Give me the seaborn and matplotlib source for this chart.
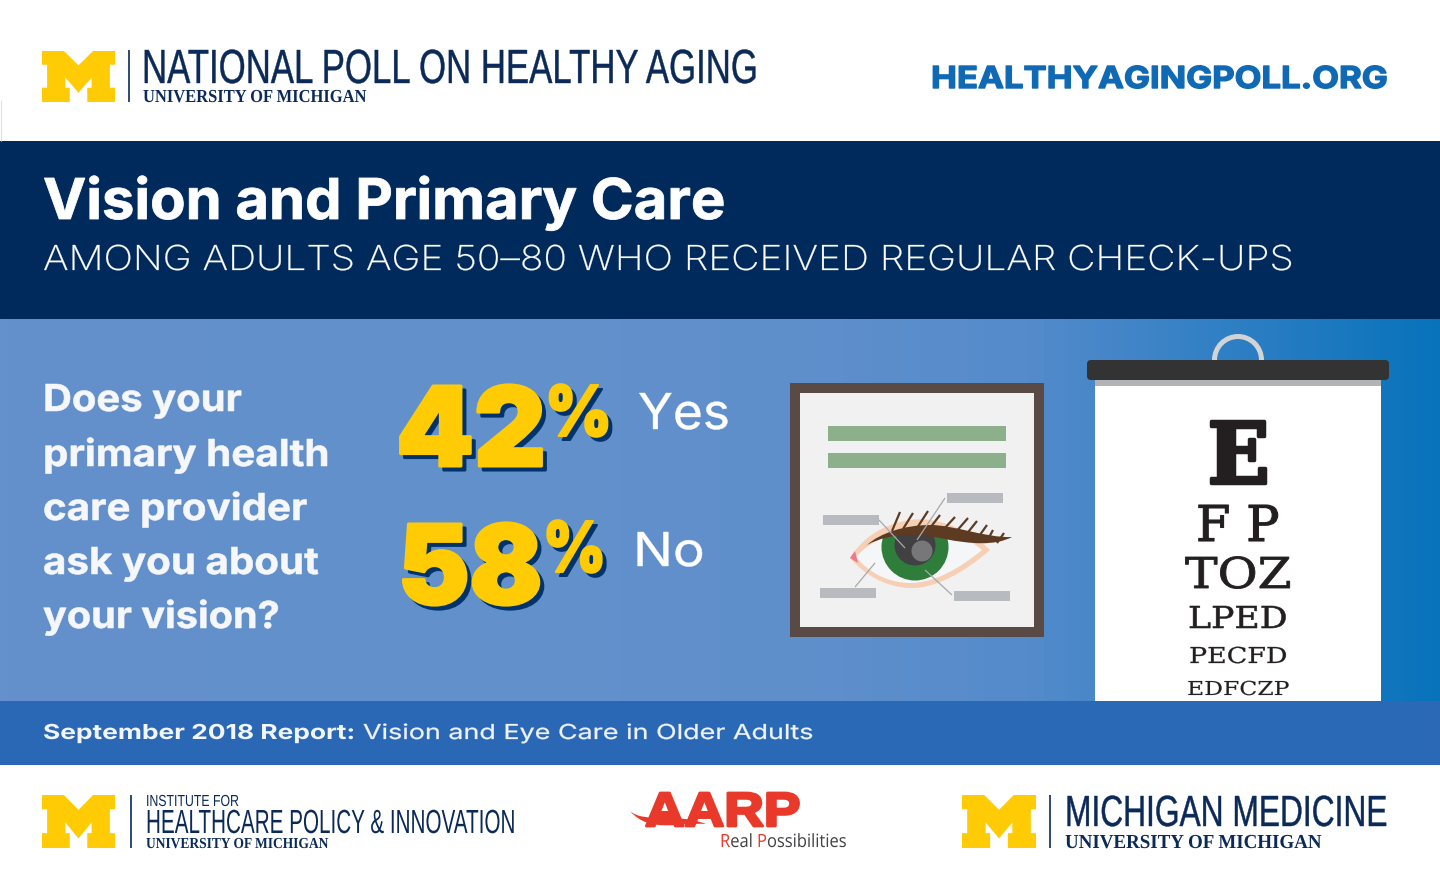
import numpy as np
import seaborn as sns
import matplotlib
matplotlib.use("Agg")
import matplotlib.pyplot as plt
import matplotlib.patheffects as pe
from matplotlib.colors import to_rgb
from matplotlib.font_manager import FontProperties
from matplotlib.patches import Rectangle, Polygon, Circle, PathPatch, FancyBboxPatch, Wedge
from matplotlib.path import Path
from matplotlib.textpath import TextPath
from matplotlib.transforms import Affine2D

# ---- content ----
poll_title = "NATIONAL POLL ON HEALTHY AGING"
um = "UNIVERSITY OF MICHIGAN"
site = "HEALTHYAGINGPOLL.ORG"
headline = "Vision and Primary Care"
subhead = "AMONG ADULTS AGE 50–80 WHO RECEIVED REGULAR CHECK-UPS"
question_lines = ["Does your", "primary health", "care provider", "ask you about", "your vision?"]
percent_values = [42, 58]
answers = ["Yes", "No"]
report_bold = "September 2018 Report:"
report_text = "Vision and Eye Care in Older Adults"
chart_rows = ["E", "F P", "TOZ", "LPED", "PECFD", "EDFCZP"]

NAVY = "#002a5c"
LOGO = "#0b2a57"
MAIZE = "#ffcb05"
RED = "#e8392a"
NARROW = "Liberation Sans"

sns.set_theme(style="white")
fig = plt.figure(figsize=(14.4, 8.82), dpi=100, facecolor="white")
ax = fig.add_axes([0, 0, 1, 1])
sns.despine(ax=ax, left=True, bottom=True, top=True, right=True)
ax.set_xticks([]); ax.set_yticks([])
renderer = fig.canvas.get_renderer()


class TextFx(pe.AbstractPathEffect):
    """Stretches a text vertically about its baseline, thickens it, adds a hard shadow."""

    def __init__(self, sy=1.0, stroke=0.0, shadow=None):
        super().__init__()
        self.sy, self.stroke, self.shadow = sy, stroke, shadow

    def draw_path(self, renderer, gc, tpath, affine, rgbFace=None):
        y0 = affine.get_matrix()[1, 2]
        a = affine + Affine2D().translate(0, -y0).scale(1, self.sy).translate(0, y0)

        def paint(tr, face):
            g = renderer.new_gc()
            g.copy_properties(gc)
            g.set_foreground(face)
            g.set_linewidth(self.stroke)
            renderer.draw_path(g, tpath, tr, face)
            g.restore()

        if self.shadow:
            dx, dy, col = self.shadow
            paint(a + Affine2D().translate(dx, -dy), to_rgb(col))
        paint(a, rgbFace)


def cap_ratio(family, weight, style):
    fp = FontProperties(family=family, weight=weight, style=style)
    return TextPath((0, 0), "H", size=100, prop=fp).get_extents().height / 100


def fit(s, x0, x1, base, family="Inter", weight="normal", color="white", style="normal", z=5,
        cap=None, stroke=0.0, shadow=None, fs=None):
    t = ax.text(x0, base, s, family=family, weight=weight, color=color, style=style,
                fontsize=10, ha="left", va="baseline", zorder=z)
    if fs is None:
        w = t.get_window_extent(renderer).width
        fs = 10 * (x1 - x0) / w
    t.set_fontsize(fs)
    sy = 1.0
    if cap is not None:
        sy = cap / (cap_ratio(family, weight, style) * fs * 100 / 72)
    t.set_path_effects([TextFx(sy, stroke, shadow)])
    return t


def rect(x0, y0, x1, y1, c, z=2):
    ax.add_patch(Rectangle((x0, y0), x1 - x0, y1 - y0, fc=c, ec="none", zorder=z))


def line(x0, y0, x1, y1, c, lw=1.0, z=4):
    ax.plot([x0, x1], [y0, y1], color=c, lw=lw, zorder=z, solid_capstyle="butt")


M_SHAPE = [(0, 0), (.30, 0), (.5, .28), (.70, 0), (1, 0), (1, .27), (.93, .27), (.93, .72), (1, .72),
           (1, 1), (.62, 1), (.62, .72), (.68, .72), (.68, .52), (.5, .82), (.32, .52), (.32, .72),
           (.38, .72), (.38, 1), (0, 1), (0, .72), (.07, .72), (.07, .27), (0, .27)]


def block_m(x0, y0, x1, y1):
    pts = [(x0 + a * (x1 - x0), y0 + b * (y1 - y0)) for a, b in M_SHAPE]
    ax.add_patch(Polygon(pts, closed=True, fc=MAIZE, ec="none", zorder=4))


def bezier(pts):
    return Path(pts, [Path.MOVETO] + [Path.CURVE4] * (len(pts) - 1))


# ---- bands ----
rect(0, 141, 1440, 319, NAVY)
line(0.5, 100, 0.5, 141, "#dfe1e3", 0.8, 2)
panel = sns.blend_palette(["#6490cb", "#6390cb", "#6290cb", "#6190cb", "#5f8fcc", "#558bcb", "#2f7fc4", "#0873bb"], 360)
ax.imshow(np.array(panel)[None, :, :], extent=(0, 1440, 701, 319), aspect="auto", zorder=1)
strip = sns.blend_palette(["#2a68b5", "#2a69b6", "#2b69b7"], 100)
ax.imshow(np.array(strip)[None, :, :], extent=(0, 1440, 765, 701), aspect="auto", zorder=1)

# ---- top logo row ----
block_m(42, 51, 115, 102)
line(129, 50, 129, 102, LOGO, 1.2)
fit(poll_title, 142, 758, 83, family=NARROW, color=LOGO, cap=33, stroke=0.3)
fit(um, 143, 366, 102, family="Liberation Serif", weight="bold", color=LOGO, cap=12)
fit(site, 931, 1387, 88, weight="bold", color="#0f69b4", cap=22, stroke=1.0)

# ---- header ----
fit(headline, 43, 726, 219, weight="bold", cap=41, stroke=0.6)
fit(subhead, 43, 1299, 270, weight="light", cap=25, stroke=0.2)

# ---- question ----
q_spans = [(43, 242), (43, 330), (43, 308), (43, 319), (43, 280)]
for s, (a, b), base in zip(question_lines, q_spans, [411, 466, 520, 574, 628]):
    fit(s, a, b, base, weight="bold", color="#f6f7fb", cap=27, stroke=0.4)

# ---- percentages ----
num_spans = [(396, 547), (398, 543)]
pct_spans = [(545, 612), (543, 606)]
num_base = [466, 604]
pct_base = [436, 572]
for v, (a, b), (c, d), nb, pb in zip(percent_values, num_spans, pct_spans, num_base, pct_base):
    fit(str(v), a, b, nb, weight="black", color=MAIZE, z=6, cap=80, stroke=2.2, shadow=(4, 4, "#00336b"))
    fit("%", c, d, pb, weight="black", color=MAIZE, z=6, cap=51, stroke=1.4, shadow=(4, 4, "#00336b"))
fit(answers[0], 638, 730, 429, cap=36, stroke=0.3)
fit(answers[1], 633, 705, 566, cap=34, stroke=0.3)

# ---- eye diagram ----
rect(790, 383, 1044, 637, "#5a4a45", 3)
rect(800, 393, 1034, 627, "#f1f1f2", 3)
rect(828, 426, 1006, 441, "#8bb08b", 4)
rect(828, 453, 1006, 468, "#8bb08b", 4)
for x0, y0 in [(947, 493), (823, 515), (820, 588), (954, 591)]:
    rect(x0, y0, x0 + 56, y0 + 9.5, "#b7bbc0", 4)

outer = bezier([(850, 558), (868, 528), (905, 516), (930, 520), (955, 524), (975, 535), (990, 550),
                (965, 572), (935, 589), (910, 588), (885, 587), (865, 575), (850, 558)])
ax.add_patch(PathPatch(outer, fc="#f6cfb4", ec="none", zorder=4))
inner = bezier([(856, 557), (872, 538), (900, 530), (925, 530), (950, 530), (968, 538), (982, 550),
                (960, 568), (935, 583), (910, 583), (888, 583), (868, 572), (856, 557)])
ax.add_patch(PathPatch(inner, fc="#f5f6f8", ec="none", zorder=5))
iris = Circle((915, 547), 33.5, fc="#2f7d3a", ec="none", zorder=6)
ax.add_patch(iris)
iris.set_clip_path(inner, ax.transData)
pupil = Circle((915, 545), 20.5, fc="#414042", ec="none", zorder=7)
ax.add_patch(pupil)
pupil.set_clip_path(inner, ax.transData)
ax.add_patch(Circle((922, 551), 10.5, fc="#77777a", ec="none", zorder=8))
ax.add_patch(Polygon([(850, 558), (855, 551), (858, 563)], closed=True, fc="#f0788c", ec="none", zorder=6))

lash = bezier([(867, 545), (880, 533), (905, 525), (930, 525), (955, 525), (985, 538), (1012, 537),
               (995, 546), (970, 544), (945, 539), (920, 534), (890, 532), (867, 545)])
ax.add_patch(PathPatch(lash, fc="#5c3b22", ec="none", zorder=9))
bases = [(892, 531), (903, 529), (917, 528), (930, 528), (943, 530), (955, 533), (965, 536), (977, 539),
         (987, 541), (997, 543)]
tips = [(900, 512), (913, 513), (928, 511), (940, 515), (955, 517), (968, 518), (977, 521), (987, 525),
        (993, 530), (1004, 533)]
for (a, b), (c, d) in zip(bases, tips):
    line(a, b, c, d, "#5c3b22", 1.6, 9)
for a, b, c, d in [(879, 520, 905, 548), (945, 498, 917, 540), (875, 563, 855, 587), (925, 570, 952, 595)]:
    line(a, b, c, d, "#a7a9ac", 0.9, 10)

# ---- eye chart ----
ax.add_patch(Wedge((1238, 360), 26, 180, 360, width=5, fc="#d1d3d4", ec="none", zorder=3))
rect(1095, 380, 1381, 701, "white", 3)
rect(1095, 380, 1381, 386, "#b1b4b6", 4)
ax.add_patch(FancyBboxPatch((1087, 360), 302, 20, boxstyle="round,pad=0,rounding_size=4",
                            fc="#333333", ec="none", zorder=5))
row_x = [(1207, 1269), (1196, 1279), (1185, 1291), (1188, 1287), (1189, 1287), (1187, 1289)]
row_base = [483, 541, 588, 628, 663, 695]
row_cap = [62, 36, 31, 22, 16, 14]
row_stroke = [2.5, 0.8, 0.6, 0.4, 0.2, 0.1]
for s, (a, b), base, h, st in zip(chart_rows, row_x, row_base, row_cap, row_stroke):
    fit(s, a, b, base, family="DejaVu Serif", weight="bold" if s == "E" else "normal",
        color="#231f20", cap=h, stroke=st)

# ---- report strip ----
fit(report_bold, 43, 355, 739, weight="bold", color="#f2f5fb", cap=15)
fit(report_text, 363, 815, 739, color="#eef2fa", cap=15, stroke=0.2)

# ---- footer logos ----
block_m(42, 795, 115, 848)
line(131, 795, 131, 848, LOGO, 1.2)
fit("INSTITUTE FOR", 146, 239, 806, family=NARROW, color=LOGO, cap=11)
fit("HEALTHCARE POLICY & INNOVATION", 146, 515, 833, family=NARROW, color=LOGO, cap=23)
fit(um, 146, 328, 848, family="Liberation Serif", weight="bold", color=LOGO, cap=10)

fit("AARP", 645, 800, 826, family="Liberation Sans", weight="bold", color=RED, cap=33, stroke=2.0)
swoosh = bezier([(630, 811), (645, 824), (675, 812), (706, 824), (680, 822), (650, 834), (630, 811)])
ax.add_patch(PathPatch(swoosh, fc=RED, ec="none", zorder=4))

pieces = [("R", RED), ("eal ", "#414042"), ("P", RED), ("ossibilities", "#414042")]
whole = "".join(p for p, _ in pieces)
probe = ax.text(0, 0, whole, family="Open Sans", fontsize=10)
real_fs = 10 * (847 - 720) / probe.get_window_extent(renderer).width


def advance(s):
    probe.set_text(s)
    probe.set_fontsize(real_fs)
    return probe.get_window_extent(renderer).width


prefix = ""
for p, colr in pieces:
    start = 720 + advance(prefix + p.strip() if prefix else p) - advance(p.strip())
    fit(p.strip(), start, start + 1, 847, family="Open Sans", color=colr, fs=real_fs, cap=13)
    prefix += p
probe.remove()

block_m(962, 795, 1036, 848)
line(1050, 795, 1050, 848, LOGO, 1.2)
fit("MICHIGAN MEDICINE", 1065, 1387, 826, family=NARROW, color=LOGO, cap=30, stroke=0.3)
fit(um, 1065, 1321, 848, family="Liberation Serif", weight="bold", color=LOGO, cap=13)

ax.set_xlim(0, 1440)
ax.set_ylim(882, 0)
ax.axis("off")
fig.savefig("out.png", dpi=100, facecolor="white")
